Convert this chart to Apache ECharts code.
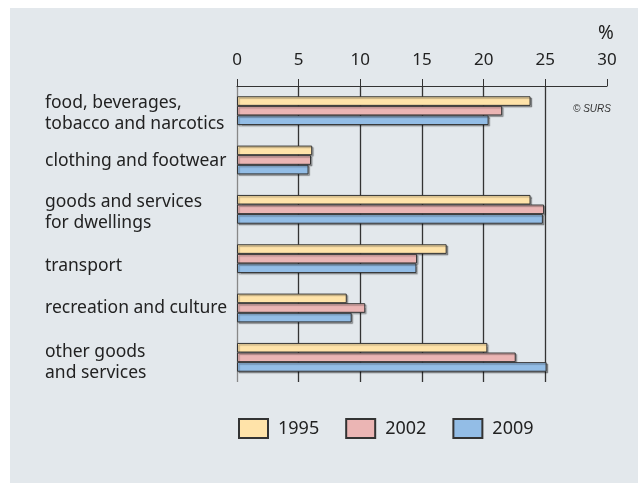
<!DOCTYPE html>
<html>
<head>
<meta charset="utf-8">
<script src="https://cdn.jsdelivr.net/npm/echarts@6/dist/echarts.min.js"></script>
<style>
html,body{margin:0;padding:0;background:#ffffff;}
#panel{position:absolute;left:10px;top:8px;width:628px;height:475px;background:#e3e8ec;}
#chart{position:absolute;left:0;top:0;width:638px;height:483px;}
</style>
</head>
<body>
<div id="panel"></div>
<div id="chart"></div>
<script>
const categories = [
  "food, beverages,\ntobacco and narcotics",
  "clothing and footwear",
  "goods and services\nfor dwellings",
  "transport",
  "recreation and culture",
  "other goods\nand services"
];
const years = ["1995", "2002", "2009"];
const values1995 = [23.8, 6.1, 23.8, 17.0, 8.9, 20.3];
const values2002 = [21.5, 6.0, 24.9, 14.6, 10.4, 22.6];
const values2009 = [20.4, 5.8, 24.8, 14.55, 9.3, 25.1];
const colors = ["#ffe3a9", "#ebb5b4", "#93bde6"];
// small vertical nudges of the category labels (px, positive = down)
const labelShift = [2.5, 1, 3, 7, 0, 5.5];

const chart = echarts.init(document.getElementById('chart'), null, {renderer: 'canvas'});
const font = "'Noto Sans', 'Open Sans', sans-serif";
function mkSeries(name, data, color) {
  return {
    name: name, type: 'bar', data: data,
    barWidth: 9.6, barGap: '0%',
    itemStyle: {color: color, borderColor: '#333', borderWidth: 1,
      shadowColor: 'rgba(0,0,0,0.3)', shadowOffsetX: 1.5, shadowOffsetY: 1.5, shadowBlur: 1},
    emphasis: {disabled: true}
  };
}
const rich = {t: {fontSize: 17.5, lineHeight: 21, color: '#222', fontFamily: font, align: 'left'}};
labelShift.forEach((s, i) => {
  rich['sp' + i] = {fontSize: 1, lineHeight: Math.max(0.01, 2 * Math.abs(s)), align: 'left'};
});
chart.setOption({
  animation: false,
  backgroundColor: 'transparent',
  textStyle: {fontFamily: font},
  grid: {left: 237, right: 31, top: 86, bottom: 101, containLabel: false, outerBoundsMode: 'none'},
  xAxis: {
    type: 'value', position: 'top', min: 0, max: 30, interval: 5,
    axisLine: {show: true, lineStyle: {color: '#333', width: 1}},
    axisTick: {show: true, length: 7, inside: false, lineStyle: {color: '#333'}},
    axisLabel: {margin: 17, fontSize: 17, color: '#222', fontFamily: font},
    splitLine: {show: true, lineStyle: {width: 1.3, color: ['#888', '#333', '#333', '#333', '#333', '#333', 'rgba(0,0,0,0)']}}
  },
  yAxis: {
    type: 'category', data: categories, inverse: true,
    axisLine: {show: false}, axisTick: {show: false},
    axisLabel: {
      align: 'left', margin: 192, fontSize: 17.5, lineHeight: 21, color: '#222', fontFamily: font,
      formatter: function (value, idx) {
        const lines = value.split('\n').map(l => '{t|' + l + '}');
        const s = labelShift[idx];
        if (s > 0) lines.unshift('{sp' + idx + '| }');
        else if (s < 0) lines.push('{sp' + idx + '| }');
        return lines.join('\n');
      },
      rich: rich
    }
  },
  legend: {
    left: 238, top: 418, padding: 0, itemWidth: 29, itemHeight: 19, itemGap: 26,
    icon: 'rect',
    data: years,
    textStyle: {fontSize: 18, color: '#222', fontFamily: font, padding: [0, 0, 0, 5]}
  },
  graphic: [
    {type: 'text', left: 598, top: 24, style: {text: '%', fontSize: 19, fill: '#222', fontFamily: font}},
    {type: 'text', left: 573, top: 104, style: {text: '© SURS', fontSize: 10, fontStyle: 'italic', fill: '#333', fontFamily: "'Liberation Sans', Arial, sans-serif"}}
  ],
  series: [
    mkSeries(years[0], values1995, colors[0]),
    mkSeries(years[1], values2002, colors[1]),
    mkSeries(years[2], values2009, colors[2])
  ]
});
</script>
</body>
</html>
